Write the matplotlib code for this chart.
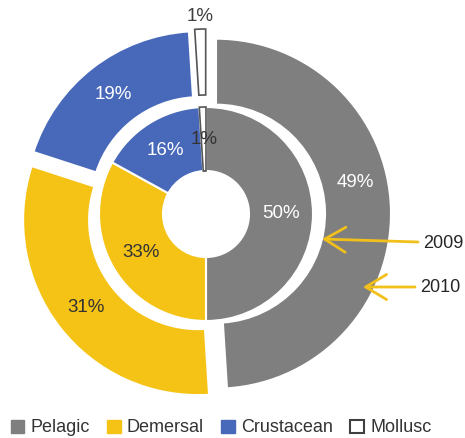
import matplotlib
matplotlib.use("Agg")
import matplotlib.pyplot as plt
from matplotlib.patches import Patch
import numpy as np

categories = ["Pelagic", "Demersal", "Crustacean", "Mollusc"]
values_2010 = [49, 31, 19, 1]   # outer ring
values_2009 = [50, 33, 16, 1]   # inner ring
years = ["2009", "2010"]

colors = ["#7f7f7f", "#f5c316", "#4868b9", "#ffffff"]
edge_mollusc = "#555555"

plt.rcParams["font.family"] = ["Liberation Sans", "DejaVu Sans"]

W, H = 465, 438
fig = plt.figure(figsize=(W / 100, H / 100), dpi=100)
ax = fig.add_axes([0, 0, 1, 1])

cx, cy, scale = 206, 214, 175.0  # pixel centre and px per unit
R_out = 1.0
R_out_in = 109 / scale
R_in = 107 / scale
R_hole = 43 / scale
expl = 10 / scale

fmt = lambda p: f"{p:.0f}%"

w_out, t_out, a_out = ax.pie(
    values_2010, radius=R_out, startangle=90, counterclock=False,
    colors=colors, explode=[expl] * 4, autopct=fmt, pctdistance=0.81,
    wedgeprops=dict(width=R_out - R_out_in, edgecolor="white", linewidth=1.5),
    textprops=dict(fontsize=13.5))
w_in, t_in, a_in = ax.pie(
    values_2009, radius=R_in, startangle=90, counterclock=False,
    colors=colors, autopct=fmt, pctdistance=0.70,
    wedgeprops=dict(width=R_in - R_hole, edgecolor="white", linewidth=1.5),
    textprops=dict(fontsize=13.5))

for ws in (w_out, w_in):
    ws[3].set_edgecolor(edge_mollusc)
    ws[3].set_linewidth(1.2)

text_colors = ["white", "#333333", "white", "#333333"]
for txts in (a_out, a_in):
    for t, c in zip(txts, text_colors):
        t.set_color(c)

# outer 1% label sits outside the ring
x, y = a_out[3].get_position()
a_out[3].set_position((x * 1.30, y * 1.30))
a_out[3].set_color("#404040")
# outer 49% label nudged upward
r49 = 153 / scale
a_out[0].set_position((r49 * np.cos(np.radians(12)), r49 * np.sin(np.radians(12))))

def d(px, py):
    return ((px - cx) / scale, (cy - py) / scale)

arrow_col = "#f2c01a"
arrows = [((322, 239), (418, 242), (423, 243)),
          ((363, 287), (415, 287), (420, 288))]
for yr, (tip, tail, tpos) in zip(years, arrows):
    ax.annotate("", xy=d(*tip), xytext=d(*tail),
                arrowprops=dict(arrowstyle="->,head_length=0.75,head_width=0.45",
                                color=arrow_col, lw=2.0, mutation_scale=20,
                                shrinkA=0, shrinkB=0))
    ax.text(*d(*tpos), yr, fontsize=13, color="#262626",
            ha="left", va="center")

ax.set_xlim(-cx / scale, (W - cx) / scale)
ax.set_ylim(-(H - cy) / scale, cy / scale)
ax.set_aspect("auto")
ax.axis("off")

handles = []
for c, n in zip(colors, categories):
    if n == "Mollusc":
        handles.append(Patch(facecolor="white", edgecolor="#404040", linewidth=1.5, label=n))
    else:
        handles.append(Patch(facecolor=c, edgecolor=c, label=n))
fig.legend(handles=handles, loc="center", bbox_to_anchor=(221 / W, 1 - 428 / H),
           ncol=4, frameon=False, fontsize=13, handlelength=0.75, handleheight=0.75,
           handletextpad=0.35, columnspacing=0.95, borderpad=0, labelcolor="#333333")

fig.savefig("out.png", dpi=100)
